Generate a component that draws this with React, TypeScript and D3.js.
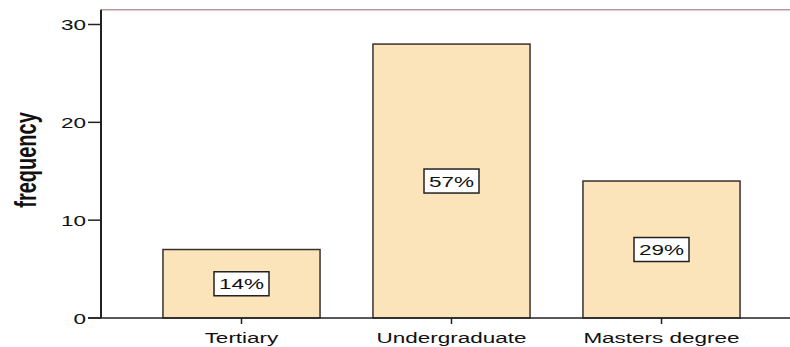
import React from "react";
import * as d3 from "d3";

const categories = ["Tertiary", "Undergraduate", "Masters degree"];
const frequencies = [7, 28, 14];
const percentLabels = ["14%", "57%", "29%"];
const yTicks = [0, 10, 20, 30];

const W = 790;
const H = 347;
const FONT = "'Liberation Sans', Arial, sans-serif";
const SX = 1.5; // horizontal stretch seen in the reference text

export default function App() {
  const x = d3
    .scaleBand<string>()
    .domain(categories)
    .range([101, 802])
    .paddingInner(0.252)
    .paddingOuter(0.295);
  const y = d3.scaleLinear().domain([0, 30]).range([318, 24.5]);
  const topY = y(31.5);

  return (
    <svg
      width={W}
      height={H}
      style={{ position: "absolute", left: 0, top: 0, background: "#fff" }}
    >
      {/* top frame line */}
      <line x1={101} x2={W} y1={topY} y2={topY} stroke="#b89a9a" strokeWidth={1.5} />

      {/* bars */}
      {categories.map((c, i) => {
        const bx = x(c)!;
        const bw = x.bandwidth();
        const by = y(frequencies[i]);
        const cy = (by + y(0)) / 2;
        const cx = bx + bw / 2;
        return (
          <g key={c}>
            <rect
              x={bx}
              y={by}
              width={bw}
              height={y(0) - by}
              fill="#fce4ba"
              stroke="#3a3030"
              strokeWidth={1.5}
            />
            <rect
              x={cx - 27.5}
              y={cy - 12}
              width={55}
              height={24}
              fill="#fff"
              stroke="#222"
              strokeWidth={1.5}
            />
            <text
              transform={`translate(${cx},${cy + 5.5}) scale(${SX},1)`}
              textAnchor="middle"
              fontFamily={FONT}
              fontSize={15}
              fill="#111"
            >
              {percentLabels[i]}
            </text>
            <line x1={cx} x2={cx} y1={318} y2={324} stroke="#222" strokeWidth={1.5} />
            <text
              transform={`translate(${cx},343) scale(${SX},1)`}
              textAnchor="middle"
              fontFamily={FONT}
              fontSize={15}
              fill="#111"
            >
              {c}
            </text>
          </g>
        );
      })}

      {/* y axis */}
      <line x1={101} x2={101} y1={topY} y2={318} stroke="#222" strokeWidth={2} />
      <line x1={88} x2={W} y1={318} y2={318} stroke="#222" strokeWidth={1.5} />
      {yTicks.map((t) => (
        <g key={t}>
          <line x1={88} x2={101} y1={y(t)} y2={y(t)} stroke="#222" strokeWidth={1.5} />
          <text
            transform={`translate(86,${y(t) + 5.5}) scale(${SX},1)`}
            textAnchor="end"
            fontFamily={FONT}
            fontSize={15}
            fill="#111"
          >
            {t}
          </text>
        </g>
      ))}

      {/* y axis title */}
      <text
        transform={`translate(36,160) scale(${SX},1) rotate(-90)`}
        textAnchor="middle"
        fontFamily={FONT}
        fontWeight="bold"
        fontSize={20}
        fill="#111"
      >
        frequency
      </text>
    </svg>
  );
}
